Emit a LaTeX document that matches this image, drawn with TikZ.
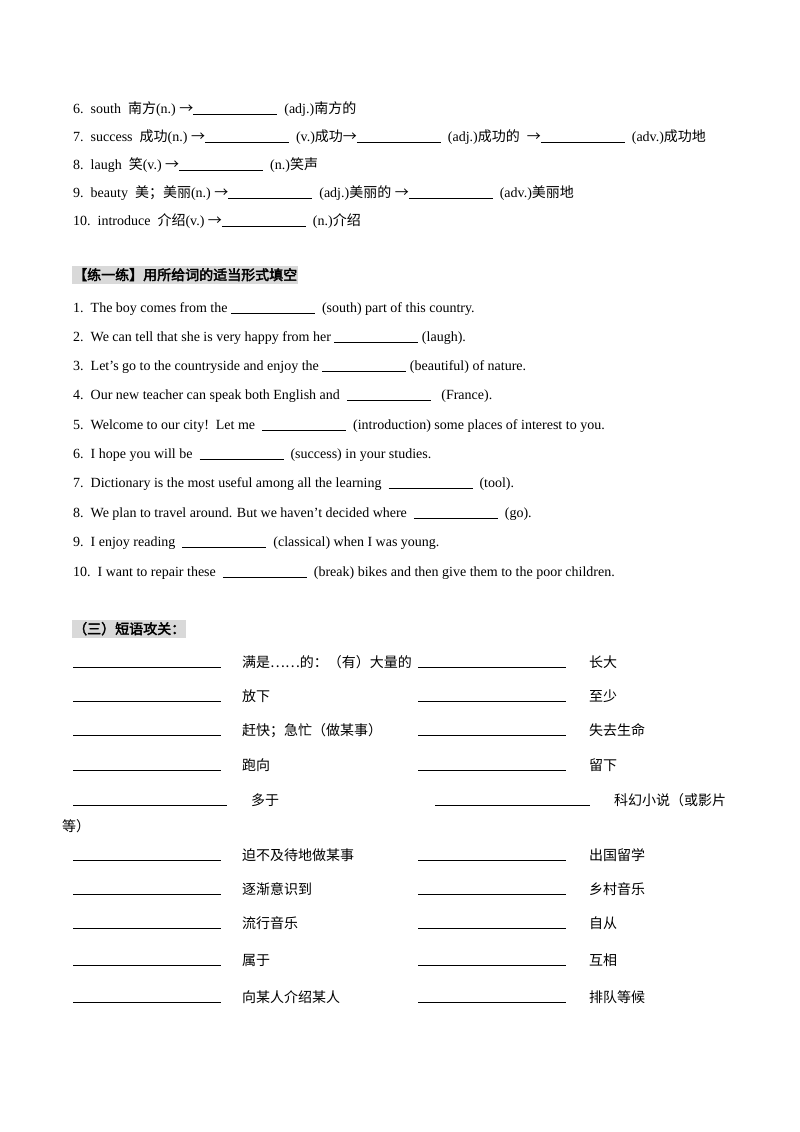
\documentclass[tikz,border=0pt]{standalone}
\usepackage{fontspec}
\setmainfont{Liberation Serif}
\newfontfamily\zhf{Noto Sans CJK SC}
\newfontfamily\zhb{Noto Sans CJK SC}[FakeBold=2.5]
\newcommand\zh[1]{{\zhf #1}}
\newcommand\ar{{\zhf →}}
\newcommand\bl{\rule[-2pt]{84pt}{0.6pt}}
\begin{document}
\begin{tikzpicture}[x=1pt,y=-1pt,
  t/.style={anchor=base west,inner sep=0pt,font=\fontsize{14}{16}\selectfont},
  h/.style={anchor=base west,inner xsep=1pt,inner ysep=2.5pt,fill=black!15,font=\fontsize{14}{16}\selectfont\zhb},
  ln/.style={line width=0.7pt}]
\useasboundingbox[fill=white] (0,0) rectangle (800,1132);
\node[t] (a6) at (73,113) {6.\ \ south\ \ \zh{南方}(n.)\ \ar\bl\ \ (adj.)\zh{南方的}};
\node[t] (a7) at (73,141) {7.\ \ success\ \ \zh{成功}(n.)\ \ar\bl\ \ (v.)\zh{成功}\ar\bl\ \ (adj.)\zh{成功的}\ \ \ar\bl\ \ (adv.)\zh{成功地}};
\node[t] (a8) at (73,169) {8.\ \ laugh\ \ \zh{笑}(v.)\ \ar\bl\ \ (n.)\zh{笑声}};
\node[t] (a9) at (73,197) {9.\ \ beauty\ \ \zh{美；美丽}(n.)\ \ar\bl\ \ (adj.)\zh{美丽的}\ \ar\bl\ \ (adv.)\zh{美丽地}};
\node[t] (a10) at (73,225) {10.\ \ introduce\ \ \zh{介绍}(v.)\ \ar\bl\ \ (n.)\zh{介绍}};
\node[h] (h1) at (72,280) {【练一练】用所给词的适当形式填空};
\node[t] (s1) at (73,312) {1.\ \ The boy comes from the \bl\ \ (south) part of this country.};
\node[t] (s2) at (73,341) {2.\ \ We can tell that she is very happy from her \bl\ (laugh).};
\node[t] (s3) at (73,370) {3.\ \ Let’s go to the countryside and enjoy the \bl\ (beautiful) of nature.};
\node[t] (s4) at (73,399) {4.\ \ Our new teacher can speak both English and\ \ \bl\ \ \ (France).};
\node[t] (s5) at (73,429) {5.\ \ Welcome to our city!\ \ Let me\ \ \bl\ \ (introduction) some places of interest to you.};
\node[t] (s6) at (73,458) {6.\ \ I hope you will be\ \ \bl\ \ (success) in your studies.};
\node[t] (s7) at (73,487) {7.\ \ Dictionary is the most useful among all the learning\ \ \bl\ \ (tool).};
\node[t] (s8) at (73,517) {8.\ \ We plan to travel around. But we haven’t decided where\ \ \bl\ \ (go).};
\node[t] (s9) at (73,546) {9.\ \ I enjoy reading\ \ \bl\ \ (classical) when I was young.};
\node[t] (s10) at (73,576) {10.\ \ I want to repair these\ \ \bl\ \ (break) bikes and then give them to the poor children.};
\node[h] (h2) at (72,634) {（三）短语攻关：};
\foreach \y/\l/\r in {667/满是……的：（有）大量的/长大, 701/放下/至少, 735/赶快；急忙（做某事）/失去生命, 770/跑向/留下, 860/迫不及待地做某事/出国留学, 894/逐渐意识到/乡村音乐, 928/流行音乐/自从, 965/属于/互相, 1002/向某人介绍某人/排队等候}{
  \draw[ln] (73,\y) -- (221,\y);
  \draw[ln] (418,\y) -- (566,\y);
  \node[t] at (242,\y) {\zh{\l}};
  \node[t] at (589,\y) {\zh{\r}};
}
\draw[ln] (73,805) -- (227,805);
\draw[ln] (435,805) -- (590,805);
\node[t] (m1) at (251,805) {\zh{多于}};
\node[t] (m2) at (614,805) {\zh{科幻小说（或影片}};
\node[t] (m3) at (62,831) {\zh{等）}};
\end{tikzpicture}
\end{document}
